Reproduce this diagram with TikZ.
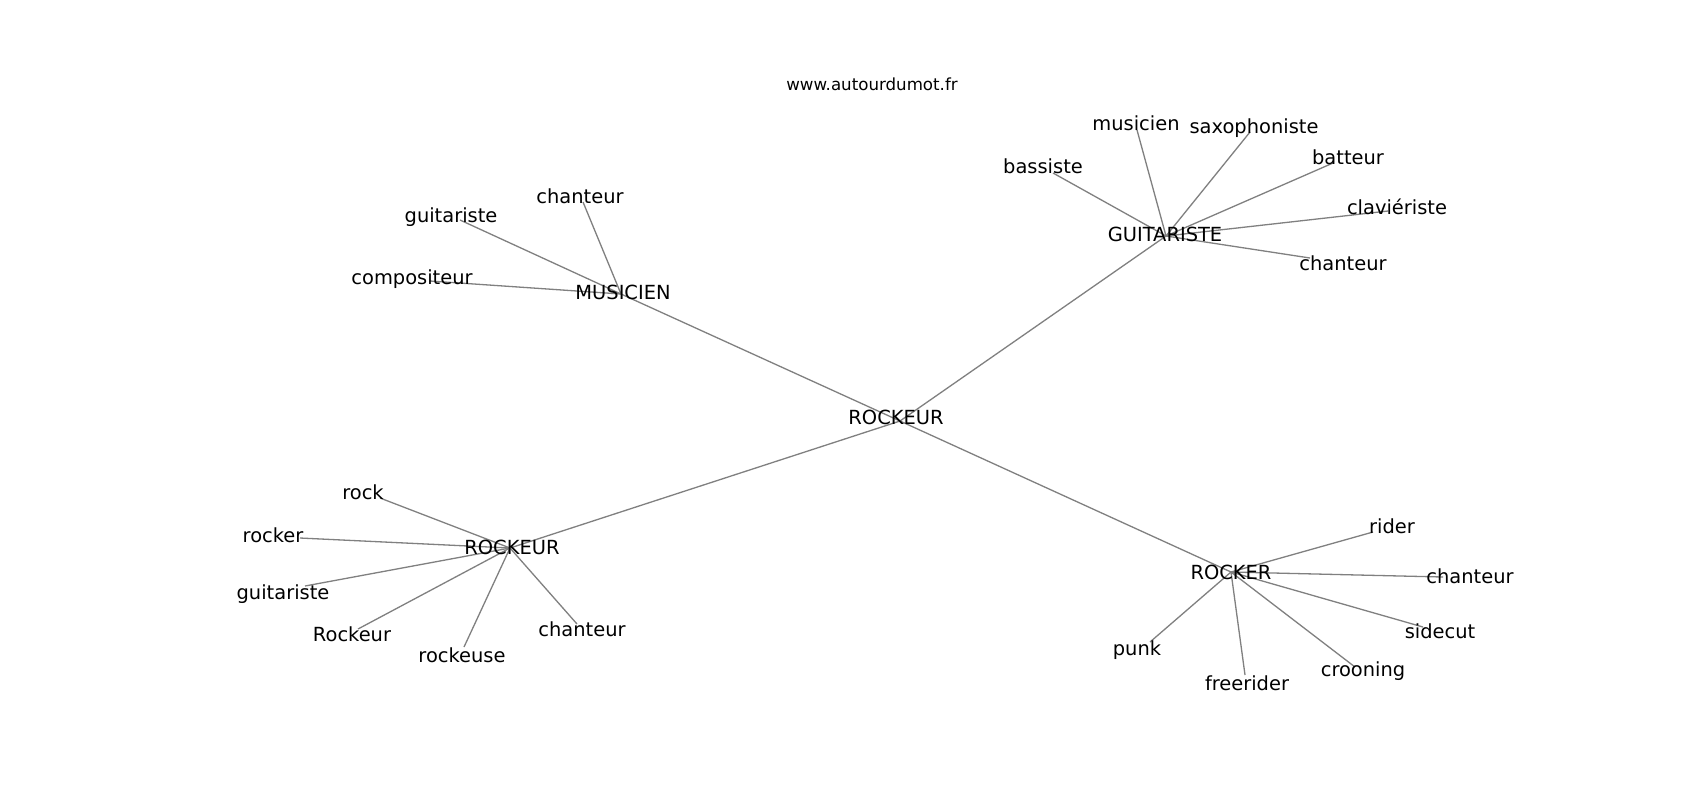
\documentclass[tikz,border=0pt]{standalone}
\usepackage{fontspec}
\setmainfont{DejaVu Sans}
\begin{document}
\begin{tikzpicture}[x=0.5pt,y=-0.5pt,
  lbl/.style={inner sep=0pt,anchor=center,text height=0.7em,text depth=0pt,font=\fontsize{9.72pt}{11pt}\selectfont},
  ttl/.style={inner sep=0pt,anchor=center,text height=0.7em,text depth=0pt,font=\fontsize{8.33pt}{10pt}\selectfont},
  edge/.style={draw=gray,line width=0.65pt}]
\useasboundingbox[fill=white] (0,0) rectangle (1700,800);
% junction / end coordinates
\coordinate (cR) at (900,421);
\coordinate (jM) at (621,294);
\coordinate (jG) at (1166,236);
\coordinate (jL) at (510,548);
\coordinate (jK) at (1231,572);
\coordinate (m1) at (583,202);
\coordinate (m2) at (460,220);
\coordinate (m3) at (430,281);
\coordinate (g1) at (1053,173);
\coordinate (g2) at (1137,130);
\coordinate (g3) at (1250,132);
\coordinate (g4) at (1333,163);
\coordinate (g5) at (1388,211);
\coordinate (g6) at (1310,258);
\coordinate (l1) at (380,498);
\coordinate (l2) at (300,538);
\coordinate (l3) at (305,586);
\coordinate (l4) at (358,629);
\coordinate (l5) at (464,647);
\coordinate (l6) at (577,624);
\coordinate (k1) at (1373,532);
\coordinate (k2) at (1443,577);
\coordinate (k3) at (1423,627);
\coordinate (k4) at (1355,667);
\coordinate (k5) at (1245,675);
\coordinate (k6) at (1150,642);
% edges
\draw[edge] (cR) -- (jM);
\draw[edge] (cR) -- (jG);
\draw[edge] (cR) -- (jL);
\draw[edge] (cR) -- (jK);
\foreach \e in {m1,m2,m3} \draw[edge] (jM) -- (\e);
\foreach \e in {g1,g2,g3,g4,g5,g6} \draw[edge] (jG) -- (\e);
\foreach \e in {l1,l2,l3,l4,l5,l6} \draw[edge] (jL) -- (\e);
\foreach \e in {k1,k2,k3,k4,k5,k6} \draw[edge] (jK) -- (\e);
% labels
\node[ttl] (title) at (872,83) {www.autourdumot.fr};
\node[lbl] (tcR) at (896,417) {ROCKEUR};
\node[lbl] (tjM) at (623,292) {MUSICIEN};
\node[lbl] (tm1) at (580,196) {chanteur};
\node[lbl] (tm2) at (451,215) {guitariste};
\node[lbl] (tm3) at (412,277) {compositeur};
\node[lbl] (tjG) at (1165,234) {GUITARISTE};
\node[lbl] (tg1) at (1043,166) {bassiste};
\node[lbl] (tg2) at (1136,123) {musicien};
\node[lbl] (tg3) at (1254,126) {saxophoniste};
\node[lbl] (tg4) at (1348,157) {batteur};
\node[lbl] (tg5) at (1397,207) {claviériste};
\node[lbl] (tg6) at (1343,263) {chanteur};
\node[lbl] (tjL) at (512,547) {ROCKEUR};
\node[lbl] (tl1) at (363,492) {rock};
\node[lbl] (tl2) at (273,535) {rocker};
\node[lbl] (tl3) at (283,592) {guitariste};
\node[lbl] (tl4) at (352,634) {Rockeur};
\node[lbl] (tl5) at (462,655) {rockeuse};
\node[lbl] (tl6) at (582,629) {chanteur};
\node[lbl] (tjK) at (1231,572) {ROCKER};
\node[lbl] (tk1) at (1392,526) {rider};
\node[lbl] (tk2) at (1470,576) {chanteur};
\node[lbl] (tk3) at (1440,631) {sidecut};
\node[lbl] (tk4) at (1363,669) {crooning};
\node[lbl] (tk5) at (1247,683) {freerider};
\node[lbl] (tk6) at (1137,648) {punk};
\end{tikzpicture}
\end{document}
